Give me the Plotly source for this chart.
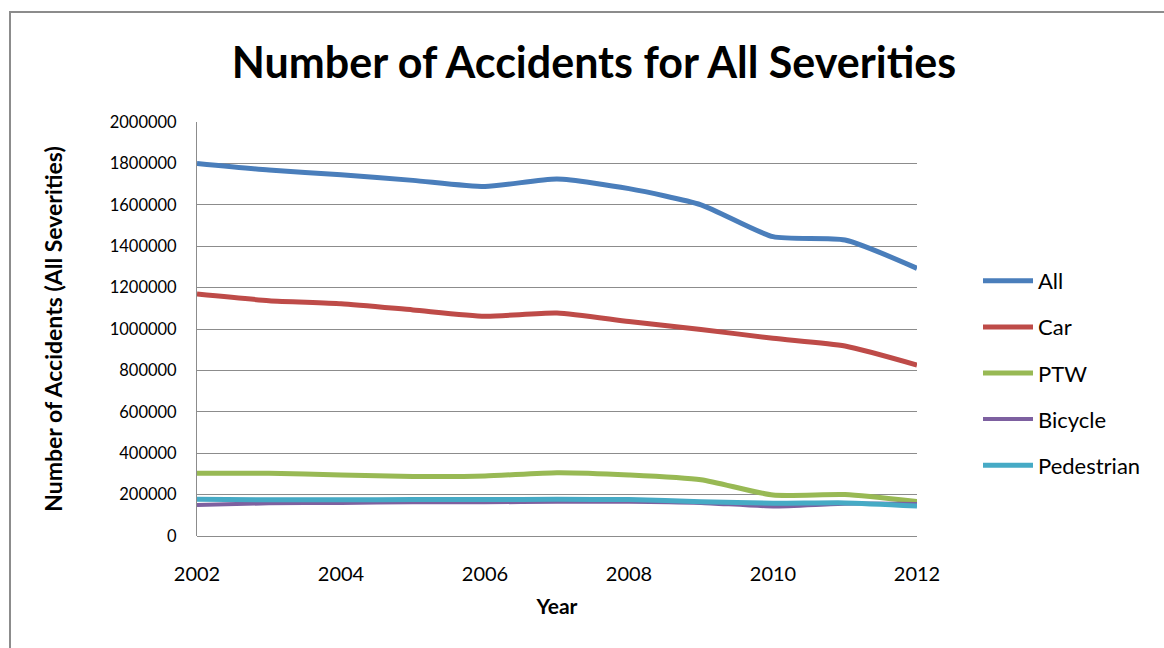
import plotly.graph_objects as go

years = [2002, 2003, 2004, 2005, 2006, 2007, 2008, 2009, 2010, 2011, 2012]
all_sev = [1800000, 1768000, 1745000, 1718000, 1688000, 1725000, 1678000, 1600000, 1446000, 1430000, 1293000]
car = [1169000, 1137000, 1122000, 1092000, 1062000, 1077000, 1036000, 998000, 955000, 918000, 826000]
ptw = [303000, 303000, 295000, 288000, 290000, 306000, 295000, 272000, 198000, 200000, 166000]
bicycle = [150000, 158000, 160000, 163000, 163000, 165000, 166000, 160000, 143000, 156000, 155000]
pedestrian = [177000, 175000, 175000, 176000, 176000, 177000, 176000, 166000, 158000, 160000, 145000]

series = [
    ("All", all_sev, "#4A7EBB", 5),
    ("Car", car, "#BE4B48", 5),
    ("PTW", ptw, "#98B954", 5),
    ("Bicycle", bicycle, "#7D60A0", 4),
    ("Pedestrian", pedestrian, "#46AAC5", 5),
]

FONT = "Lato"

fig = go.Figure()
for name, vals, color, w in series:
    fig.add_trace(go.Scatter(
        x=years, y=vals, name=name, mode="lines", legendgroup=name,
        line=dict(color=color, width=w, shape="spline", smoothing=0.6),
    ))

L, R, T, B = 197, 917, 122, 536
W, H = 1164, 648
pw, ph = R - L, B - T

fig.update_layout(
    width=W, height=H,
    margin=dict(l=L, r=W - R, t=T, b=H - B),
    paper_bgcolor="white", plot_bgcolor="white",
    font=dict(family=FONT, color="#000000", size=17),
    title=dict(text="<b>Number of Accidents for All Severities</b>",
               x=(594) / W, xanchor="center", y=1 - 63 / H, yanchor="middle",
               font=dict(family=FONT, size=43, color="#000000")),
    showlegend=True,
    legend=dict(x=(978 - L) / pw, xanchor="left", y=(B - 281 + 21) / ph, yanchor="top",
                font=dict(family=FONT, size=22), tracegroupgap=14.5, itemwidth=50,
                bgcolor="rgba(0,0,0,0)"),
    xaxis=dict(range=[2002, 2012], tickvals=[2002, 2004, 2006, 2008, 2010, 2012],
               showgrid=False, zeroline=False, showline=False,
               ticks="", tickfont=dict(size=20), ticklabelstandoff=24,
               title=dict(text="<b>Year</b>", font=dict(size=21), standoff=15)),
    yaxis=dict(range=[0, 2000000], dtick=200000, tickformat="d",
               showgrid=True, gridcolor="#8C8C8C", gridwidth=1,
               zeroline=True, zerolinecolor="#8C8C8C", zerolinewidth=1,
               showline=True, linecolor="#8C8C8C", linewidth=1,
               ticks="", tickfont=dict(size=16.5), ticklabelstandoff=16,
               title=dict(text="<b>Number of Accidents (All Severities)</b>", font=dict(size=23), standoff=40)),
    shapes=[dict(type="rect", xref="paper", yref="paper",
                 x0=(10 - L) / pw, x1=(1175 - L) / pw,
                 y0=(B - 660) / ph, y1=(B - 12) / ph,
                 line=dict(color="#8C8C8C", width=2), fillcolor="rgba(0,0,0,0)", layer="below")],
)

fig.write_html("out.html")
